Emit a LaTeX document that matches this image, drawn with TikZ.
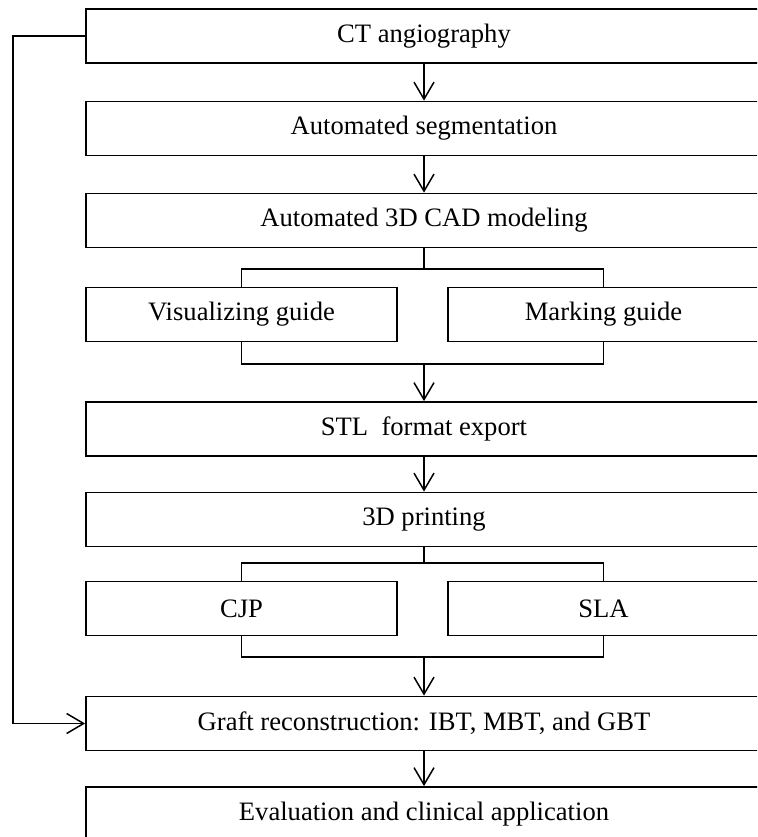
\documentclass[tikz,border=0pt]{standalone}
\usepackage{fontspec}
\setmainfont{Liberation Serif}
\usetikzlibrary{arrows.meta, positioning, calc}

\begin{document}
\begin{tikzpicture}[x=1pt, y=-1pt,
    box/.style={draw, line width=1.8pt, minimum width=676pt, minimum height=54pt, inner sep=0pt, font=\fontsize{26.6}{30}\selectfont},
    subbox/.style={box, minimum width=311pt},
    link/.style={line width=1.5pt},
    flow/.style={link, -{Straight Barb[length=17pt, width=20pt, line width=1.5pt]}}]
    \useasboundingbox (0,0) rectangle (757,837);
    \clip (0,0) rectangle (757,837);

    \node[box] (ct) at (424,36) {CT angiography};
    \node[box] (seg) at (424,128.5) {Automated segmentation};
    \node[box] (cad) at (424,220.5) {Automated 3D CAD modeling};
    \node[subbox] (vis) at (241.5,314.5) {Visualizing guide};
    \node[subbox] (mark) at (603.5,314.5) {Marking guide};
    \node[box] (stl) at (424,429) {STL\ \ format export};
    \node[box] (print) at (424,519.5) {3D printing};
    \node[subbox] (cjp) at (241.5,608.5) {CJP};
    \node[subbox] (sla) at (603.5,608.5) {SLA};
    \node[box] (graft) at (424,723.5) {Graft reconstruction: IBT, MBT, and GBT};
    \node[box] (eval) at (424,814) {Evaluation and clinical application};

    \coordinate (split1) at (424,269);
    \coordinate (join1) at (424,364);
    \coordinate (split2) at (424,563);
    \coordinate (join2) at (424,657);
    \coordinate (back) at (13,36);

    \draw[flow] (ct) -- (seg);
    \draw[flow] (seg) -- (cad);
    \draw[link] (cad) -- (split1);
    \draw[link] (vis.north) |- (split1) -| (mark.north);
    \draw[link] (vis.south) |- (join1) -| (mark.south);
    \draw[flow] (join1) -- (stl);
    \draw[flow] (stl) -- (print);
    \draw[link] (print) -- (split2);
    \draw[link] (cjp.north) |- (split2) -| (sla.north);
    \draw[link] (cjp.south) |- (join2) -| (sla.south);
    \draw[flow] (join2) -- (graft);
    \draw[flow] (graft) -- (eval);

    % feedback from the scan straight to the graft step
    \draw[flow] (ct.west) -- (back) |- (graft.west);
\end{tikzpicture}
\end{document}
